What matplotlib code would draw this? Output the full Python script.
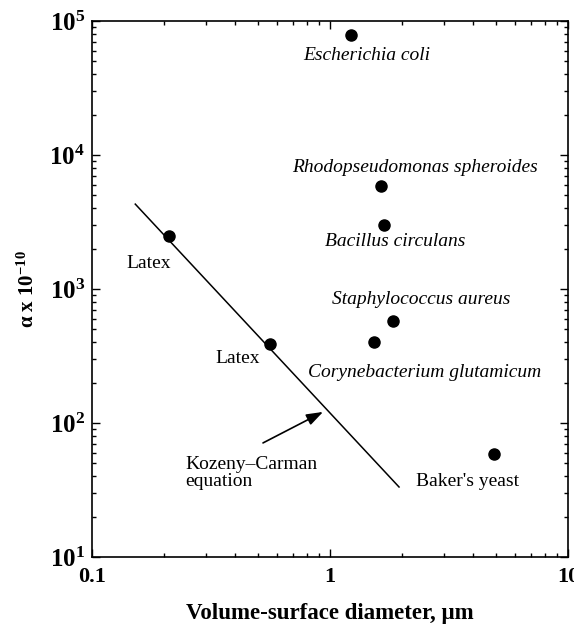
import matplotlib
matplotlib.use("Agg")
import matplotlib.pyplot as plt
from matplotlib.ticker import LogLocator, FixedLocator, FixedFormatter, NullFormatter

plt.rcParams['font.family'] = ['Liberation Serif', 'DejaVu Serif']
plt.rcParams['mathtext.fontset'] = 'custom'
plt.rcParams['mathtext.rm'] = 'Liberation Serif:bold'
plt.rcParams['mathtext.bf'] = 'Liberation Serif:bold'
plt.rcParams['mathtext.it'] = 'Liberation Serif:italic'

# Specific cake resistance vs. particle size
names = ["Escherichia coli", "Rhodopseudomonas spheroides", "Bacillus circulans",
         "Staphylococcus aureus", "Corynebacterium glutamicum",
         "Latex", "Latex", "Baker's yeast"]
diameter = [1.23, 1.64, 1.69, 1.84, 1.53, 0.21, 0.56, 4.87]
alpha = [78700, 5870, 3000, 577, 402, 2490, 389, 58.7]

# Kozeny-Carman prediction (end points of the straight line)
kc_diameter = [0.152, 1.95]
kc_alpha = [4300, 33.3]

# label anchor points
label_x = [1.43, 2.27, 1.87, 2.41, 2.51, 0.173, 0.41, 3.77]
label_y = [55700, 8130, 2245, 841, 240, 1563, 305, 36.9]
italic = [True, True, True, True, True, False, False, False]

fig = plt.figure(figsize=(5.74, 6.25), dpi=100)
ax = fig.add_axes([92/574, 1-557/625, (568-92)/574, (557-21)/625])

ax.set_xscale('log')
ax.set_yscale('log')
ax.set_xlim(0.1, 10)
ax.set_ylim(10, 1e5)

ax.plot(kc_diameter, kc_alpha, color='black', lw=1.1)
ax.plot(diameter, alpha, 'o', color='black', ms=8, mec='black')

for n, lx, ly, it in zip(names, label_x, label_y, italic):
    ax.text(lx, ly, n, ha='center', va='center', fontsize=14,
            style='italic' if it else 'normal')

ax.text(0.246, 42.4, "Kozeny\u2013Carman\nequation", ha='left', va='center',
        fontsize=14, linespacing=1.0)
ax.annotate("", xy=(0.935, 121), xytext=(0.523, 71),
            arrowprops=dict(arrowstyle='-|>,head_length=1.0,head_width=0.35',
                            color='black', lw=1.2, shrinkA=0, shrinkB=0))

ax.xaxis.set_major_locator(FixedLocator([0.1, 1, 10]))
ax.xaxis.set_major_formatter(FixedFormatter(["0.1", "1", "10"]))
ax.xaxis.set_minor_locator(LogLocator(base=10, subs=range(2, 10)))
ax.xaxis.set_minor_formatter(NullFormatter())
ax.yaxis.set_major_locator(FixedLocator([10, 100, 1e3, 1e4, 1e5]))
ax.yaxis.set_major_formatter(FixedFormatter([r"$10^{1}$", r"$10^{2}$", r"$10^{3}$",
                                             r"$10^{4}$", r"$10^{5}$"]))
ax.yaxis.set_minor_locator(LogLocator(base=10, subs=range(2, 10)))
ax.yaxis.set_minor_formatter(NullFormatter())

ax.tick_params(which='both', direction='in', top=True, right=True, width=1.0)
ax.tick_params(which='major', length=6)
ax.tick_params(axis='x', which='major', labelsize=16, pad=7)
ax.tick_params(axis='y', which='major', labelsize=18, pad=5)
ax.tick_params(which='minor', length=3)
for lab in ax.get_xticklabels():
    lab.set_fontweight('bold')
for s in ax.spines.values():
    s.set_linewidth(1.2)

ax.set_xlabel("Volume-surface diameter, \u03bcm", fontsize=16.5, fontweight='bold', labelpad=12)
ax.set_ylabel(r"$\mathbf{\alpha}$ x 10$^{\mathbf{-10}}$", fontsize=15, fontweight='bold', labelpad=8)

fig.savefig("out.png", dpi=100)
